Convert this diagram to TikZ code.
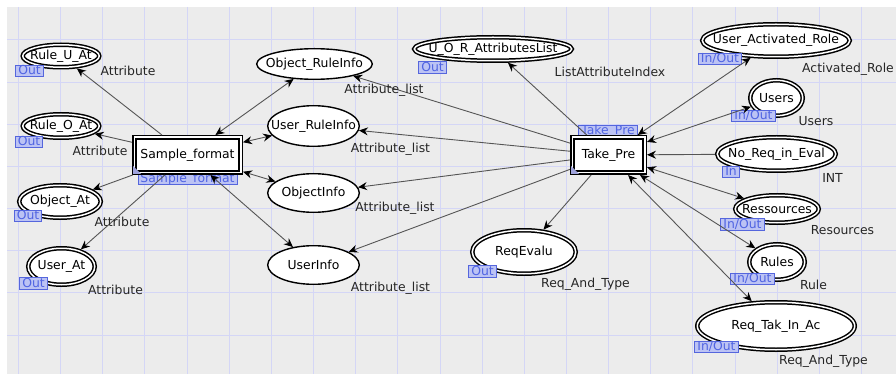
\documentclass[tikz,border=0pt]{standalone}
\usepackage{fontspec}
\setmainfont{DejaVu Sans}
\usetikzlibrary{shapes.geometric,arrows.meta}

\definecolor{canvas}{HTML}{ECECEC}
\definecolor{gridc}{HTML}{D4D6F6}
\definecolor{tagfill}{HTML}{BCC3F4}
\definecolor{tagdraw}{HTML}{5566DD}
\definecolor{tagtext}{HTML}{5064E2}
\definecolor{arcc}{HTML}{555555}
\definecolor{cornerc}{HTML}{9FA3DC}

\begin{document}
\begin{tikzpicture}[x=1pt,y=-1pt,
  font=\fontsize{12.4}{14}\selectfont,
  place/.style={ellipse, draw=black, fill=white, line width=1.4pt, inner sep=0pt},
  port/.style={ellipse, draw=black, double=white, double distance=1.5pt,
    line width=1.5pt, fill=white, inner sep=0pt, outer sep=2.2pt},
  trans/.style={rectangle, draw=black, double=white, double distance=1.6pt,
    line width=1.5pt, fill=white, inner sep=0pt, outer sep=2.3pt},
  tag/.style={rectangle, draw=tagdraw, fill=tagfill, text=tagtext, line width=0.9pt,
    inner xsep=2.5pt, inner ysep=0.5pt, text height=8.8pt, text depth=1.6pt},
  lbl/.style={text=black!85, inner sep=0pt, text height=9pt, text depth=2.5pt},
  arc/.style={draw=arcc, line width=0.9pt},
  >={Stealth[length=9pt,width=8pt,inset=3pt,color=black]}]

% page and canvas
\clip (0,0) rectangle (896,374);
\fill[white] (0,0) rectangle (896,374);
\fill[canvas] (7,7) rectangle (896,374);
\foreach \i in {0,...,20}
  \draw[gridc, line width=1pt] (18.5+42.15*\i,7) -- (18.5+42.15*\i,374);
\foreach \j in {0,...,7}
  \draw[gridc, line width=1pt] (7,40+42.15*\j) -- (896,40+42.15*\j);

% subpage tags of the substitution transitions
\node[tag] (sampleTag) at (187.5,179) {Sample\_format};
\node[tag] (takeTag) at (608,131) {Take\_Pre};

% transitions
\node[trans, minimum width=106.4pt, minimum height=35.4pt] (sample) at (187.5,155) {Sample\_format};
\node[trans, minimum width=72.4pt, minimum height=35.4pt] (take) at (608.5,155) {Take\_Pre};
\fill[cornerc] (133,166) -- (133,174) -- (141,174) -- cycle;
\fill[cornerc] (571,166) -- (571,174) -- (579,174) -- cycle;

% port places, left side
\node[port, minimum width=76.5pt, minimum height=22.5pt, label=center:Rule\_U\_At] (ruleU) at (61,56) {};
\node[port, minimum width=76.5pt, minimum height=23.5pt, label=center:Rule\_O\_At] (ruleO) at (61,126) {};
\node[port, minimum width=81.5pt, minimum height=32.5pt, label=center:Object\_At] (objAt) at (60,201.5) {};
\node[port, minimum width=66.5pt, minimum height=36.5pt, label=center:User\_At] (userAt) at (61.5,266.5) {};

% internal places
\node[place, minimum width=115.6pt, minimum height=30.6pt, label=center:Object\_RuleInfo] (objRule) at (314.5,64) {};
\node[place, minimum width=91.6pt, minimum height=40.6pt, label=center:User\_RuleInfo] (userRule) at (313.5,126) {};
\node[place, minimum width=91.6pt, minimum height=38.6pt, label=center:ObjectInfo] (objInfo) at (313.5,193) {};
\node[place, minimum width=91.6pt, minimum height=38.6pt, label=center:UserInfo] (userInfo) at (313.5,265) {};

% port places, middle and right side
\node[port, minimum width=157.5pt, minimum height=23.5pt, label=center:U\_O\_R\_AttributesList] (uor) at (493,49) {};
\node[port, minimum width=103.5pt, minimum height=43.5pt, label=center:ReqEvalu] (reqev) at (524,252) {};
\node[port, minimum width=147.5pt, minimum height=32.5pt, label=center:User\_Activated\_Role] (uar) at (776,40.5) {};
\node[port, minimum width=52.5pt, minimum height=35.5pt, label=center:Users] (users) at (776.5,98) {};
\node[port, minimum width=118.5pt, minimum height=33.5pt, label=center:No\_Req\_in\_Eval] (noreq) at (776.5,154) {};
\node[port, minimum width=83.5pt, minimum height=27.5pt, label=center:Ressources] (ress) at (777,209) {};
\node[port, minimum width=55.5pt, minimum height=35.5pt, label=center:Rules] (rules) at (777,262) {};
\node[port, minimum width=157.5pt, minimum height=47.5pt, label=center:Req\_Tak\_In\_Ac] (reqtak) at (776,326) {};

% port type tags
\node[tag] (tRuleU) at (29.5,71) {Out};
\node[tag] (tRuleO) at (29,142) {Out};
\node[tag] (tObjAt) at (28,216) {Out};
\node[tag] (tUserAt) at (33.5,283.5) {Out};
\node[tag] (tUor) at (432.5,67.5) {Out};
\node[tag] (tReqev) at (482.5,271.5) {Out};
\node[tag] (tUar) at (720,59) {In/Out};
\node[tag] (tUsers) at (753.5,116) {In/Out};
\node[tag] (tNoreq) at (731,172) {In};
\node[tag] (tRess) at (742.5,224.5) {In/Out};
\node[tag] (tRules) at (752.5,279) {In/Out};
\node[tag] (tReqtak) at (716.5,347) {In/Out};

% arcs of Sample_format
\draw[arc,->] (sample) -- (ruleU);
\draw[arc,->] (sample) -- (ruleO);
\draw[arc,->] (sample) -- (objAt);
\draw[arc,->] (sample) -- (userAt);
\draw[arc,<->] (sample) -- (objRule);
\draw[arc,<->] (sample) -- (userRule);
\draw[arc,<->] (sample) -- (objInfo);
\draw[arc,<->] (sample) -- (userInfo);

% arcs of Take_Pre
\draw[arc,->] (take) -- (objRule);
\draw[arc,->] (take) -- (userRule);
\draw[arc,->] (take) -- (objInfo);
\draw[arc,->] (take) -- (userInfo);
\draw[arc,->] (take) -- (uor);
\draw[arc,->] (take) -- (reqev);
\draw[arc,<->] (take) -- (uar);
\draw[arc,<->] (take) -- (users);
\draw[arc,->] (noreq) -- (take);
\draw[arc,<->] (take) -- (ress);
\draw[arc,<->] (take) -- (rules);
\draw[arc,<->] (take) -- (reqtak);

% colour set labels
\node[lbl] (cRuleU) at (128,72) {Attribute};
\node[lbl] (cRuleO) at (100,152) {Attribute};
\node[lbl] (cObjAt) at (122,223.5) {Attribute};
\node[lbl] (cUserAt) at (115.5,291) {Attribute};
\node[lbl] (cObjRule) at (384,90) {Attribute\_list};
\node[lbl] (cUserRule) at (390.5,149) {Attribute\_list};
\node[lbl] (cObjInfo) at (395,208.5) {Attribute\_list};
\node[lbl] (cUserInfo) at (390.5,288.5) {Attribute\_list};
\node[lbl] (cUor) at (610,73.5) {ListAttributeIndex};
\node[lbl] (cReqev) at (585.5,284) {Req\_And\_Type};
\node[lbl, anchor=east] (cUar) at (894,69) {Activated\_Role};
\node[lbl] (cUsers) at (816,122.5) {Users};
\node[lbl] (cNoreq) at (832.5,179) {INT};
\node[lbl] (cRess) at (842.5,231) {Resources};
\node[lbl] (cRules) at (813.5,286) {Rule};
\node[lbl] (cReqtak) at (823.5,361.5) {Req\_And\_Type};
\end{tikzpicture}
\end{document}
